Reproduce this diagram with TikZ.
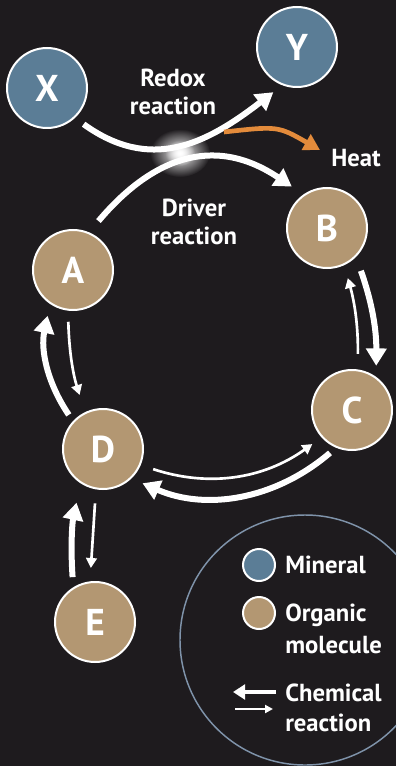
\documentclass[tikz,border=0pt]{standalone}
\usepackage{fontspec}
\setmainfont{PT Sans}
\usetikzlibrary{arrows.meta,fadings}
\definecolor{bg}{HTML}{1E1B1E}
\definecolor{mineralblue}{HTML}{5B7D96}
\definecolor{organictan}{HTML}{B39772}
\definecolor{heatorange}{HTML}{E38B3B}
\definecolor{keyline}{HTML}{7F93AA}
\tikzfading[name=glowfade, inner color=transparent!0, outer color=transparent!100]

\begin{document}
\begin{tikzpicture}[
    x=0.75pt, y=0.75pt,
    font=\bfseries\fontsize{18.5}{21.5}\selectfont,
    molecule/.style={circle, draw=white, line width=1.5pt, minimum size=60pt, inner sep=0pt,
      text=white, font=\bfseries\fontsize{28}{28}\selectfont},
    mineral/.style={molecule, fill=mineralblue},
    organic/.style={molecule, fill=organictan},
    lbl/.style={text=white, align=center, inner sep=0pt},
    fat/.style={draw=white, line width=4.5pt, -{Triangle[length=13pt,width=15pt]}},
    slim/.style={draw=white, line width=2pt, -{Triangle[length=7.5pt,width=8pt]}},
    heat/.style={draw=heatorange, line width=3.5pt, -{Triangle[length=12pt,width=13pt]}}
  ]
  \useasboundingbox (0,0) rectangle (396,-766);
  \clip (0,0) rectangle (396,-766);
  \fill[bg] (0,0) rectangle (396,-766);

  \node[mineral] (X) at (47,-88) {X};
  \node[mineral] (Y) at (297,-47) {Y};
  \node[organic] (A) at (73,-270) {A};
  \node[organic] (B) at (327,-228) {B};
  \node[organic] (C) at (352,-410) {C};
  \node[organic] (D) at (103,-449) {D};
  \node[organic] (E) at (95,-622) {E};

  \node[lbl] (redox) at (173,-92) {Redox\\reaction};
  \node[lbl] (driver) at (194,-222) {Driver\\reaction};
  \node[lbl, anchor=west] (Heat) at (331,-158) {Heat};

  \draw[fat, shorten <=8pt, shorten >=8.5pt] (X.-47) .. controls (150,-172) and (205,-145) .. (Y.-111);
  \coordinate (heatstart) at (224,-132);
  \draw[heat] (heatstart) .. controls (278,-126) .. ([shift={(-11,8)}]Heat.west);
  \draw[fat, shorten <=11pt, shorten >=10.5pt] (A.67) .. controls (150,-160) and (212,-133) .. (B.125);
  \fill[white, path fading=glowfade] (180,-153) ellipse (30 and 24);
  \fill[white, path fading=glowfade] (180,-153) ellipse (15 and 13);

  \draw[fat, shorten <=11pt, shorten >=8.3pt] (B.-45) to[bend left=10] (C.54);
  \draw[slim, shorten <=11.7pt, shorten >=10pt] (C.82) to[bend right=8] (B.-65);
  \draw[fat, shorten <=5.9pt, shorten >=9pt] (C.-113) to[bend left=32] (D.-46);
  \draw[slim, shorten <=9.8pt, shorten >=8.5pt] (D.-23) to[bend right=27] (C.-138);
  \draw[fat, shorten <=5.6pt, shorten >=9pt] (D.137) to[bend left=23] (A.-124);
  \draw[slim, shorten <=8.3pt, shorten >=13.5pt] (A.-97) to[bend right=8] (D.116);
  \draw[fat, shorten <=7.6pt, shorten >=14.8pt] (E.122) to[bend left=8] (D.-123);
  \draw[slim, shorten <=10.5pt, shorten >=10pt] (D.-100) to (E.97);

  % legend
  \node[circle, draw=keyline, line width=1.1pt, minimum size=187.5pt] (key) at (305,-640) {};
  \node[mineral, minimum size=24pt] (keymin) at (259,-565) {};
  \node[lbl, anchor=west] (keymintxt) at (285,-565) {Mineral};
  \node[organic, minimum size=24pt] (keyorg) at (259,-613) {};
  \node[lbl, anchor=west, align=left, font=\bfseries\fontsize{18.5}{24}\selectfont] (keyorgtxt) at (285,-629) {Organic\\molecule};
  \node[lbl, anchor=west, align=left, font=\bfseries\fontsize{18.5}{22.5}\selectfont] (keyrxn) at (285,-708) {Chemical\\reaction};
  \coordinate (kfat0) at (276,-692);
  \coordinate (kfat1) at (233,-692);
  \coordinate (kslim0) at (235,-709);
  \coordinate (kslim1) at (273,-709);
  \draw[fat, line width=3.2pt, -{Triangle[length=9pt,width=11pt]}] (kfat0) -- (kfat1);
  \draw[slim, line width=1.5pt, -{Triangle[length=6pt,width=6pt]}] (kslim0) -- (kslim1);
\end{tikzpicture}
\end{document}
